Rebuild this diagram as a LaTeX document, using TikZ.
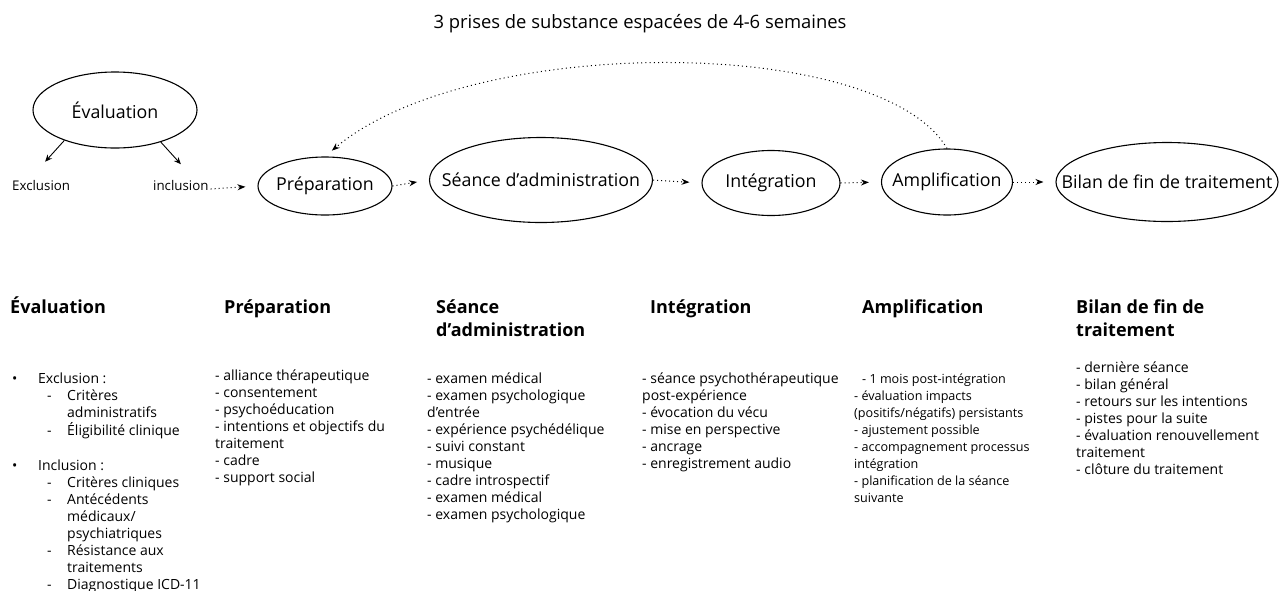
\documentclass[tikz,border=0pt]{standalone}
\usepackage{fontspec}
\setmainfont{Open Sans}
\usetikzlibrary{shapes.geometric,arrows.meta}
% indentation helpers for the evaluation criteria list
\newcommand\critbullet{\makebox[26pt][l]{•}}
\newcommand\critdash{\hspace*{35pt}\makebox[20pt][l]{-}}
\newcommand\critcont{\hspace*{55pt}}
% a left-aligned block whose reference point is the first baseline
\newcommand\block[1]{\begin{tabular}[t]{@{}l@{}}#1\end{tabular}}
\begin{document}
\begin{tikzpicture}[x=1pt,y=-1pt,
  stage/.style={ellipse,draw,line width=1.1pt,inner sep=0pt,
    label={[font=\fontsize{17.8}{20}\selectfont]center:#1}},
  flow/.style={line width=1pt,dash pattern=on 1pt off 3pt,
    -{Stealth[length=8pt,width=6pt]},shorten >=12pt},
  branch/.style={line width=0.9pt,-{Stealth[length=7pt,width=6pt]}},
  outcome/.style={anchor=base west,inner sep=0pt,font=\fontsize{13.3}{16}\selectfont},
  heading/.style={anchor=base west,inner sep=0pt,
    font=\fontsize{18}{23}\selectfont\bfseries},
  items/.style={anchor=base west,inner sep=0pt,
    font=\fontsize{14}{17}\selectfont},
  smallitems/.style={items,font=\fontsize{12.6}{17}\selectfont},
]
\useasboundingbox (0,0) rectangle (1279,590);

% title
\node[anchor=base,inner sep=0pt,font=\fontsize{18.4}{22}\selectfont] (title) at (640,28)
  {3 prises de substance espacées de 4-6 semaines};

% stages of the protocol
\node[stage=Évaluation,minimum width=164pt,minimum height=76pt] (eval) at (115,110) {};
\node[stage=Préparation,minimum width=134pt,minimum height=58pt] (prep) at (325,186) {};
\node[stage=Séance d’administration,minimum width=223pt,minimum height=85pt] (seance) at (541,180) {};
\node[stage=Intégration,minimum width=138pt,minimum height=65pt] (integ) at (771,183) {};
\node[stage=Amplification,minimum width=131pt,minimum height=66pt] (ampl) at (947,182) {};
\node[stage=Bilan de fin de traitement,minimum width=222pt,minimum height=79pt] (bilan) at (1167,182) {};

% outcomes of the evaluation
\node[outcome] (excl) at (12,190) {Exclusion};
\node[outcome] (incl) at (153,190) {inclusion};

\draw[branch] (eval.211) -- ([xshift=4pt,yshift=18pt]excl.north);
\draw[branch] (eval.325) -- ([yshift=15.5pt]incl.north);

% main sequence
\draw[flow] (incl.east) ++(2pt,-4pt) -- (prep.west);
\draw[flow] (prep.east) -- (seance.west);
\draw[flow] (seance.east) -- (integ.west);
\draw[flow] (integ.east) -- (ampl.west);
\draw[flow] (ampl.east) -- (bilan.west);

% repetition loop
\draw[line width=1pt,dash pattern=on 1pt off 3.2pt,-{Stealth[length=8pt,width=6pt]},shorten >=9pt]
  (ampl.north) .. controls (880,34) and (470,34) .. (prep.north);

% column headings
\node[heading] (hEval) at (10,313) {Évaluation};
\node[heading] (hPrep) at (224,313) {Préparation};
\node[heading] (hSeance) at (436,313) {\block{Séance\\d’administration}};
\node[heading] (hInteg) at (650,313) {Intégration};
\node[heading] (hAmpl) at (862,313) {Amplification};
\node[heading] (hBilan) at (1076,313) {\block{Bilan de fin de\\traitement}};

% column contents
\node[items] (lEval) at (12,383.5) {\block{\critbullet Exclusion :\\
  \critdash Critères\\
  \critcont administratifs\\
  \critdash Éligibilité clinique\\[18pt]
  \critbullet Inclusion :\\
  \critdash Critères cliniques\\
  \critdash Antécédents\\
  \critcont médicaux/\\
  \critcont psychiatriques\\
  \critdash Résistance aux\\
  \critcont traitements\\
  \critdash Diagnostique ICD-11}};

\node[items] (lPrep) at (215,380) {\block{- alliance thérapeutique\\
  - consentement\\
  - psychoéducation\\
  - intentions et objectifs du\\
  traitement\\
  - cadre\\
  - support social}};

\node[items] (lSeance) at (427,383) {\block{- examen médical\\
  - examen psychologique\\
  d’entrée\\
  - expérience psychédélique\\
  - suivi constant\\
  - musique\\
  - cadre introspectif\\
  - examen médical\\
  - examen psychologique}};

\node[items] (lInteg) at (642,383) {\block{- séance psychothérapeutique\\
  post-expérience\\
  - évocation du vécu\\
  - mise en perspective\\
  - ancrage\\
  - enregistrement audio}};

\node[smallitems] (lAmpl) at (854,383) {\block{\hspace*{8pt}- 1 mois post-intégration\\
  - évaluation impacts\\
  (positifs/négatifs) persistants\\
  - ajustement possible\\
  - accompagnement processus\\
  intégration\\
  - planification de la séance\\
  suivante}};

\node[items] (lBilan) at (1076,372) {\block{- dernière séance\\
  - bilan général\\
  - retours sur les intentions\\
  - pistes pour la suite\\
  - évaluation renouvellement\\
  traitement\\
  - clôture du traitement}};
\end{tikzpicture}
\end{document}
